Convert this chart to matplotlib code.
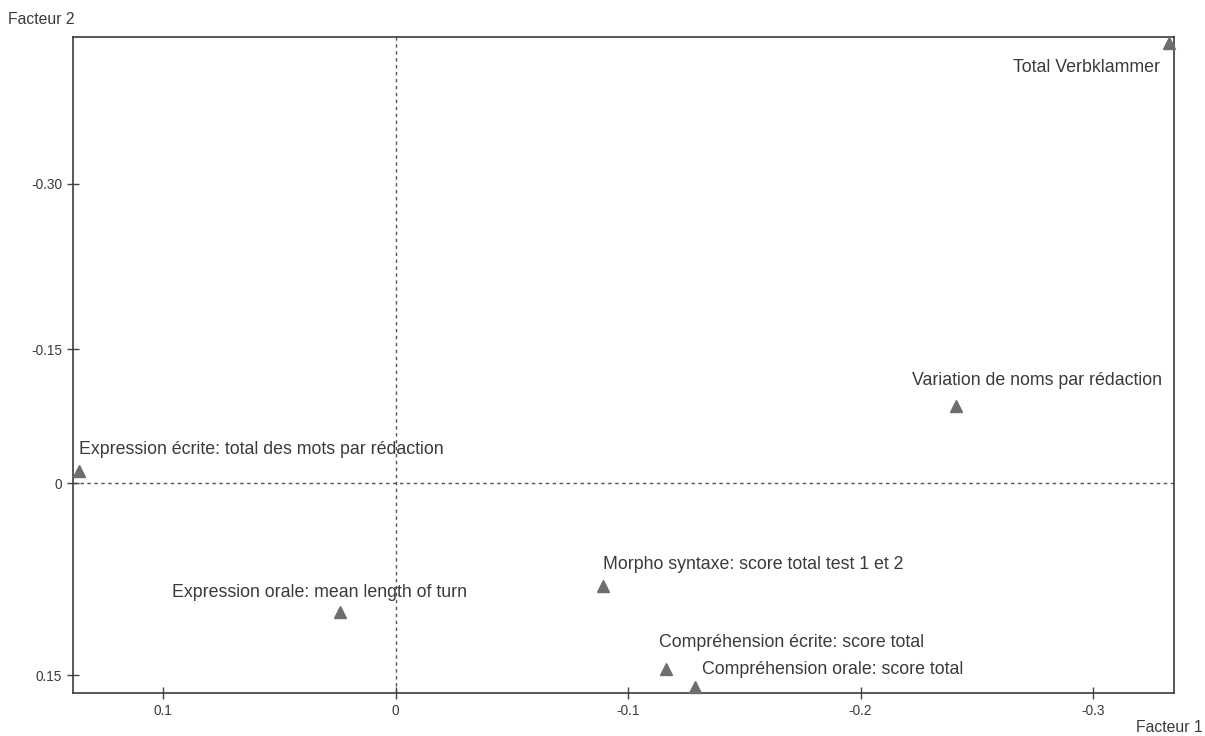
import numpy as np
import matplotlib
matplotlib.use("Agg")
import matplotlib.pyplot as plt

plt.rcParams['font.family'] = ['Liberation Sans', 'DejaVu Sans']

labels = [
    "Total Verbklammer",
    "Variation de noms par rédaction",
    "Expression écrite: total des mots par rédaction",
    "Expression orale: mean length of turn",
    "Morpho syntaxe: score total test 1 et 2",
    "Compréhension écrite: score total",
    "Compréhension orale: score total",
]
facteur1 = [-0.3327, -0.2411, 0.1361, 0.0239, -0.0892, -0.1163, -0.1288]
facteur2 = [-0.4282, -0.0862, -0.0134, 0.1008, 0.0805, 0.1453, 0.159]

xticks = [0.1, 0, -0.1, -0.2, -0.3]
xticklabels = ["0.1", "0", "-0.1", "-0.2", "-0.3"]
yticks = [-0.30, -0.15, 0, 0.15]
yticklabels = ["-0.30", "-0.15", "0", "0.15"]

# the reference's vertical axis spaces its ticks unevenly; reproduce with a piecewise scale
_knots_v = np.array([-0.6, -0.30, -0.15, 0.0, 0.15, 0.45])
_knots_p = np.array([184 - 0.30 * 1100, 184, 349, 483, 675, 675 + 0.30 * 1280], dtype=float)

def fwd(v):
    return np.interp(v, _knots_v, _knots_p)

def inv(p):
    return np.interp(p, _knots_p, _knots_v)

fig = plt.figure(figsize=(12.05, 7.36), dpi=100)
ax = fig.add_axes([73 / 1205, 1 - 693 / 736, (1174 - 73) / 1205, (693 - 37) / 736])
ax.set_yscale('function', functions=(fwd, inv))

ax.set_xlim(0.1387, -0.3348)
ax.set_ylim(0.164, -0.4336)

ax.axhline(0, color='#555555', lw=1, ls=(0, (2.5, 2.5)), zorder=1)
ax.axvline(0, color='#555555', lw=1, ls=(0, (2.5, 2.5)), zorder=1)

ax.plot(facteur1, facteur2, ls='none', marker='^', ms=9, color='#6e6e6e',
        markeredgecolor='#6e6e6e', clip_on=False, zorder=3)

txt_color = '#3a3a3a'
fs = 12.8
# label placements (offsets in points relative to the marker)
offsets = [
    (-6.5, -18, 'right'),
    (-31.7, 18.7, 'left'),
    (0, 15.8, 'left'),
    (-121, 14.4, 'left'),
    (0, 15.8, 'left'),
    (-5, 19.4, 'left'),
    (5, 12.2, 'left'),
]
for lab, x, y, (dx, dy, ha) in zip(labels, facteur1, facteur2, offsets):
    ax.annotate(lab, (x, y), xytext=(dx, dy), textcoords='offset points',
                ha=ha, va='center', fontsize=fs, color=txt_color, zorder=4)

ax.set_xticks(xticks)
ax.set_xticklabels(xticklabels)
ax.set_yticks(yticks)
ax.set_yticklabels(yticklabels)
ax.minorticks_off()
ax.tick_params(direction='inout', length=8, width=1, color='#444444',
               labelsize=9.8, labelcolor='#3a3a3a', pad=4)

for s in ax.spines.values():
    s.set_color('#3c3c3c')
    s.set_linewidth(1.2)

fig.text(8 / 1205, 1 - 20 / 736, "Facteur 2", fontsize=11.3, color='#3a3a3a',
         ha='left', va='center')
fig.text(1203 / 1205, 1 - 728 / 736, "Facteur 1", fontsize=11.3, color='#3a3a3a',
         ha='right', va='center')

fig.savefig("out.png", dpi=100, facecolor='white')
